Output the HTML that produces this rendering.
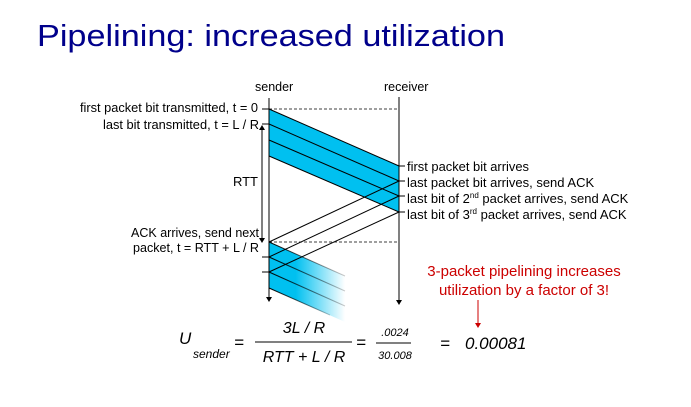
<!DOCTYPE html>
<html><head><meta charset="utf-8"><style>
html,body{margin:0;padding:0;background:#fff;}
svg{display:block;font-family:"Liberation Sans",Arial,sans-serif;}
</style></head><body>
<svg width="691" height="407" viewBox="0 0 691 407">
<defs>
<linearGradient id="fade" x1="0" x2="1" y1="0" y2="0">
<stop offset="0" stop-color="#00c0f0"/><stop offset="0.35" stop-color="#00c0f0"/><stop offset="1" stop-color="#00c0f0" stop-opacity="0"/>
</linearGradient>
<linearGradient id="fadeLine" x1="0" x2="1" y1="0" y2="0">
<stop offset="0" stop-color="#000"/><stop offset="1" stop-color="#000" stop-opacity="0.2"/>
</linearGradient>
</defs>
<text x="37" y="46" font-size="31" fill="#00008b" textLength="468" lengthAdjust="spacingAndGlyphs">Pipelining: increased utilization</text>

<text x="255" y="91" font-size="12.5">sender</text>
<text x="384" y="91" font-size="12.5">receiver</text>

<polygon points="269,109 399,166 399,212 269,156" fill="#00c0f0"/>
<g stroke="#000" stroke-width="1" fill="none">
<line x1="269" y1="109" x2="399" y2="166"/>
<line x1="269" y1="124" x2="399" y2="181"/>
<line x1="269" y1="140" x2="399" y2="196"/>
<line x1="269" y1="156" x2="399" y2="212"/>
</g>
<polygon points="269,242 345,276 345,322 269,288" fill="url(#fade)"/>
<g stroke="url(#fadeLine)" stroke-width="1">
<line x1="269" y1="242" x2="345" y2="276"/>
<line x1="269" y1="257" x2="345" y2="291"/>
<line x1="269" y1="272" x2="345" y2="306"/>
<line x1="269" y1="288" x2="330" y2="315"/>
</g>
<g stroke="#000" stroke-width="1">
<line x1="399" y1="181" x2="269" y2="242"/>
<line x1="399" y1="196" x2="269" y2="257"/>
<line x1="399" y1="212" x2="269" y2="272"/>
</g>
<g stroke="#000" stroke-width="0.8" stroke-dasharray="3,2">
<line x1="269" y1="109" x2="399" y2="109"/>
<line x1="269" y1="242" x2="399" y2="242"/>
</g>
<g stroke="#000" stroke-width="1">
<line x1="269" y1="98" x2="269" y2="297"/>
<line x1="399" y1="97" x2="399" y2="300"/>
<line x1="262" y1="109" x2="269" y2="109"/>
<line x1="262" y1="124" x2="269" y2="124"/>
<line x1="262" y1="257" x2="269" y2="257"/>
<line x1="262" y1="272" x2="269" y2="272"/>
<line x1="399" y1="166" x2="405" y2="166"/>
<line x1="399" y1="181" x2="405" y2="181"/>
<line x1="399" y1="196" x2="405" y2="196"/>
<line x1="399" y1="212" x2="405" y2="212"/>
<line x1="262" y1="128" x2="262" y2="240"/>
</g>
<g fill="#000">
<polygon points="266,297 272,297 269,302"/>
<polygon points="396,300 402,300 399,305"/>
<polygon points="259,130 265,130 262,125"/>
<polygon points="259,238 265,238 262,243"/>
</g>
<g font-size="13" fill="#000">
<text x="80" y="112" textLength="178" lengthAdjust="spacingAndGlyphs">first packet bit transmitted, t = 0</text>
<text x="103" y="129" textLength="156" lengthAdjust="spacingAndGlyphs">last bit transmitted, t = L / R</text>
<text x="258" y="186" text-anchor="end">RTT</text>
<text x="131" y="237" textLength="128" lengthAdjust="spacingAndGlyphs">ACK arrives, send next</text>
<text x="133" y="252" textLength="126" lengthAdjust="spacingAndGlyphs">packet, t = RTT + L / R</text>
<text x="407" y="171" textLength="122" lengthAdjust="spacingAndGlyphs">first packet bit arrives</text>
<text x="407" y="187">last packet bit arrives, send ACK</text>
<text x="407" y="203">last bit of 2<tspan font-size="8" dy="-5">nd</tspan><tspan dy="5"> packet arrives, send ACK</tspan></text>
<text x="407" y="219">last bit of 3<tspan font-size="8" dy="-5">rd</tspan><tspan dy="5"> packet arrives, send ACK</tspan></text>
</g>
<g font-size="15" fill="#cc0000" text-anchor="middle">
<text x="524" y="276">3-packet pipelining increases</text>
<text x="524" y="295">utilization by a factor of 3!</text>
</g>
<line x1="478" y1="300" x2="478" y2="325" stroke="#cc0000" stroke-width="1"/>
<polygon points="475,323 481,323 478,328" fill="#cc0000"/>
<g font-style="italic" fill="#000">
<text x="179" y="344" font-size="17">U</text>
<text x="193" y="358" font-size="12">sender</text>
<text x="234" y="348" font-size="17">=</text>
<text x="304" y="333" font-size="16" text-anchor="middle">3L / R</text>
<line x1="255" y1="342" x2="352" y2="342" stroke="#000" stroke-width="1"/>
<text x="304" y="362" font-size="16" text-anchor="middle">RTT + L / R</text>
<text x="356" y="348" font-size="17">=</text>
<text x="395" y="336" font-size="11" text-anchor="middle">.0024</text>
<line x1="376" y1="343" x2="411" y2="343" stroke="#000" stroke-width="1"/>
<text x="395" y="359" font-size="11" text-anchor="middle">30.008</text>
<text x="440" y="349" font-size="17">=</text>
<text x="465" y="349" font-size="17">0.00081</text>
</g>
</svg>
</body></html>
